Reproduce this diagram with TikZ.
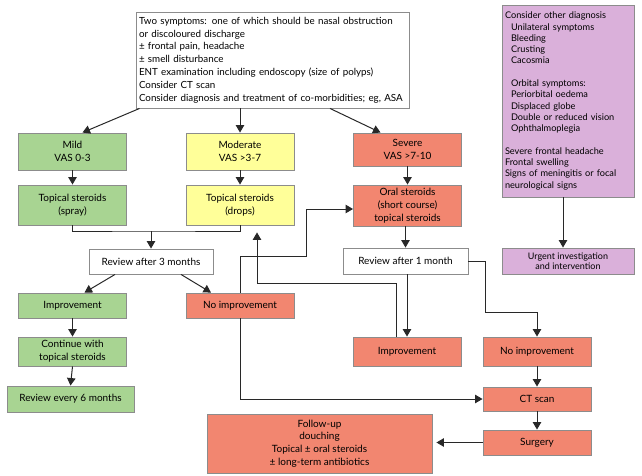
\documentclass[tikz,border=0pt]{standalone}
\usepackage{fontspec}
\setmainfont{Lato}
\usetikzlibrary{arrows.meta,positioning,calc}
\definecolor{mildgreen}{RGB}{168,212,146}
\definecolor{modyellow}{RGB}{255,255,153}
\definecolor{sevred}{RGB}{242,134,112}
\definecolor{otherpink}{RGB}{218,176,218}
\definecolor{edgegray}{RGB}{140,140,140}
\definecolor{wiregray}{RGB}{40,40,40}

\begin{document}
\begin{tikzpicture}[x=1pt,y=-1pt,
  box/.style={draw=edgegray,line width=0.9pt,align=center,inner sep=2pt,font=\fontsize{10}{12.7}\selectfont,minimum width=108pt,minimum height=25pt},
  mild/.style={box,fill=mildgreen},
  moderate/.style={box,fill=modyellow},
  severe/.style={box,fill=sevred},
  plain/.style={box,fill=white},
  link/.style={line width=1pt,draw=wiregray},
  arr/.style={link,-{Triangle[length=7.5pt,width=8.5pt]}}
]
\useasboundingbox (0,0) rectangle (642,476);
% assessment and red flags
\node[plain,align=left,text width=267pt,minimum width=273pt,minimum height=96pt,font=\fontsize{9.8}{12.8}\selectfont] (symptoms) at (272.5,60) {Two symptoms: one of which should be nasal obstruction\\or discoloured discharge\\± frontal pain, headache\\± smell disturbance\\ENT examination including endoscopy (size of polyps)\\Consider CT scan\\Consider diagnosis and treatment of co-morbidities; eg, ASA};
\node[box,fill=otherpink,align=left,text width=126pt,minimum width=132pt,minimum height=192pt,font=\fontsize{9.2}{11.3}\selectfont] (other) at (568,101) {Consider other diagnosis\\\hspace*{6pt}Unilateral symptoms\\\hspace*{6pt}Bleeding\\\hspace*{6pt}Crusting\\\hspace*{6pt}Cacosmia\\[11.3pt]\hspace*{6pt}Orbital symptoms:\\\hspace*{6pt}Periorbital oedema\\\hspace*{6pt}Displaced globe\\\hspace*{6pt}Double or reduced vision\\\hspace*{6pt}Ophthalmoplegia\\[11.3pt]Severe frontal headache\\Frontal swelling\\Signs of meningitis or focal\\neurological signs};
\node[box,fill=otherpink,minimum width=132pt,minimum height=26pt,font=\fontsize{9}{10}\selectfont] (urgent) at (568,261) {Urgent investigation\\and intervention};
% severity columns
\node[mild,minimum height=37pt] (mild) at (72.5,151.5) {Mild\\VAS 0-3};
\node[moderate,minimum height=37pt] (moderate) at (240,151.5) {Moderate\\VAS >3-7};
\node[severe,minimum height=33pt] (severe) at (407.5,149.5) {Severe\\VAS >7-10};
\node[mild,minimum height=40pt] (spray) at (72.5,205) {Topical steroids\\(spray)};
\node[moderate,minimum height=40pt] (drops) at (240,205) {Topical steroids\\(drops)};
\node[severe,minimum height=41pt] (oral) at (407.5,205.5) {Oral steroids\\(short course)\\topical steroids};
\node[plain,minimum width=124pt] (rev3) at (151,261.5) {Review after 3 months};
\node[plain,minimum width=125pt,minimum height=26pt] (rev1) at (405.5,261) {Review after 1 month};
% outcomes
\node[mild] (impl) at (72.5,305.5) {Improvement};
\node[severe] (noimpl) at (240,305.5) {No improvement};
\node[mild,minimum height=29pt] (cont) at (72.5,351.5) {Continue with\\topical steroids};
\node[mild,minimum width=127pt,minimum height=26pt] (rev6) at (70.5,399) {Review every 6 months};
\node[severe,minimum height=29pt] (impr) at (407,351.5) {Improvement};
\node[severe,minimum height=29pt] (noimpr) at (537,351.5) {No improvement};
\node[severe,minimum height=24pt] (ct) at (537,399) {CT scan};
\node[severe] (surg) at (537,442.5) {Surgery};
\node[severe,minimum width=225pt,minimum height=59pt] (follow) at (319.5,443.5) {Follow-up\\douching\\Topical ± oral steroids\\± long-term antibiotics};
\coordinate (merge) at (151,231);
% connectors
\draw[arr] ([xshift=4pt]symptoms.south west) -- ([xshift=10pt]mild.north);
\draw[arr] (moderate.north |- symptoms.south) -- (moderate.north);
\draw[arr] ([xshift=57.5pt]symptoms.south) -- ([xshift=-27pt]severe.north);
\draw[arr] (mild.south) -- (spray.north);
\draw[arr] (moderate.south) -- (drops.north);
\draw[arr] (severe.south) -- (oral.north);
\draw[link] (spray.south) |- (merge) -| (drops.south);
\draw[arr] (merge) -- (rev3.north);
\draw[arr] (oral.south -| rev1.north) -- (rev1.north);
\draw[arr] ([xshift=-36pt]rev3.south) -- ([xshift=12pt]impl.north);
\draw[arr] ([xshift=30pt]rev3.south) -- ([xshift=-29pt]noimpl.north);
\draw[arr] (impl.south) -- (cont.north);
\draw[arr] (cont.south) -- (rev6.north);
\draw[arr] (noimpl.north) |- (306,256) |- ([yshift=-3.5pt]oral.west);
\draw[arr,shorten >=7pt] ([xshift=-11pt]impr.north) |- (257,283) -- ([xshift=17pt]drops.south);
\draw[arr] (impr.north |- rev1.south) -- (impr.north);
\draw[arr] (rev1.east) -| (485,312) -| (noimpr.north);
\draw[arr] (noimpr.south) -- (ct.north);
\draw[arr] (ct.south) -- (surg.north);
\draw[arr,shorten >=4pt] (surg.west) -- (surg.west -| follow.east);
\draw[arr] (noimpl.south) |- (ct.west);
\draw[arr] ([xshift=-5pt]other.south) -- ([xshift=-5pt]other.south |- urgent.north);
\end{tikzpicture}
\end{document}
